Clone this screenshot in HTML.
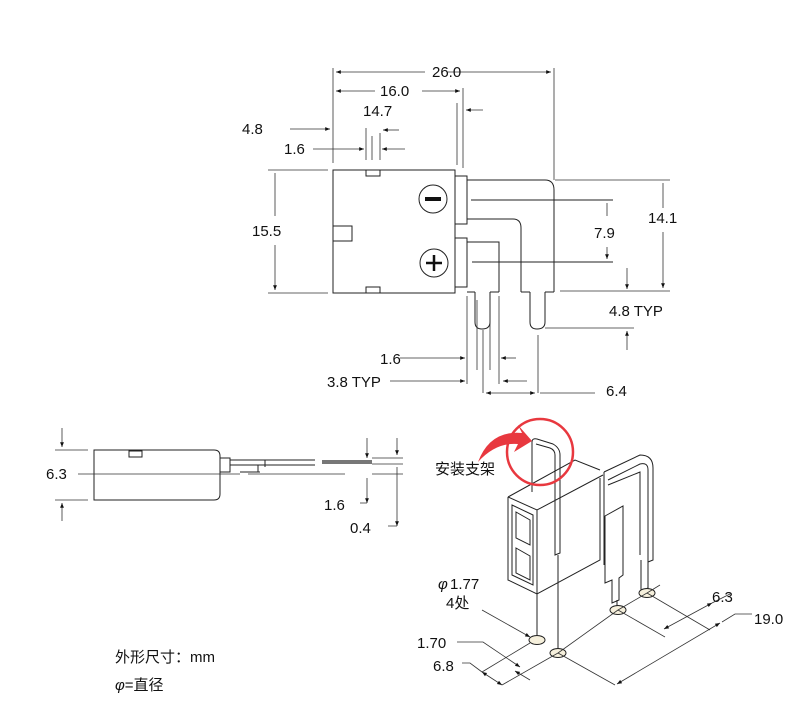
<!DOCTYPE html>
<html><head><meta charset="utf-8"><style>
body{margin:0;background:#fff}
svg{display:block}
text{font-family:"Liberation Sans","Noto Sans CJK SC",sans-serif;font-size:15px;fill:#111}
.l{stroke:#222;stroke-width:1;fill:none}
.t{stroke:#333;stroke-width:.8;fill:none}
</style></head><body>
<svg width="800" height="702" viewBox="0 0 800 702" xmlns="http://www.w3.org/2000/svg">
<defs>
<marker id="a" viewBox="0 0 10 10" refX="10" refY="5" markerWidth="8" markerHeight="6" orient="auto-start-reverse"><path d="M0,1 L10,5 L0,9z" fill="#111"/></marker>
</defs>
<!-- main body -->
<g class="l">
<rect x="333" y="170" width="122" height="123"/>
<rect x="366" y="170" width="14" height="6"/>
<rect x="366" y="287" width="14" height="6"/>
<rect x="333" y="226" width="19" height="15"/>
<rect x="455" y="176" width="12" height="48"/>
<rect x="455" y="238" width="12" height="49"/>
<path d="M455,224 V238"/>
<circle cx="433" cy="199" r="14"/>
<circle cx="434" cy="263" r="14"/>
<path d="M467,180 H545 Q554,180 554,190 V292"/>
<path d="M467,219 H513 Q521,219 521,228 V292"/>
<path d="M467,242 H499 V292"/>
<path d="M467,292 H475 M490,292 H499 M521,292 H530 M545,292 H554"/>
<path d="M475,292 V322 Q475,329 482,329 Q490,329 490,322 V292"/>
<path d="M530,292 V322 Q530,329 537,329 Q545,329 545,322 V292"/>
<path d="M471,200 H613 M472,262 H613"/>
</g>
<rect x="425" y="197" width="16" height="4" fill="#111"/>
<path d="M434,255 V271 M426,263 H442" stroke="#111" stroke-width="2.5"/>
<!-- top dims -->
<g class="t">
<path d="M333,68 V163 M554,68 V180 M463,88 V168 M457,103 V165"/>
<path d="M336,72 H425 M448,72 H551" marker-start="url(#a)" marker-end="url(#a)"/>
<path d="M336,91 H375 M422,91 H460" marker-start="url(#a)" marker-end="url(#a)"/>
<path d="M290,129 H330" marker-end="url(#a)"/>
<path d="M483,110 H466" marker-end="url(#a)"/>
<path d="M313,149 H364" marker-end="url(#a)"/>
<path d="M405,149 H382" marker-end="url(#a)"/>
<path d="M399,130 H383" marker-end="url(#a)"/>
<path d="M366,128 V160 M380,133 V160 M372,136 V160"/>
<path d="M268,170 H328 M268,293 H328"/>
<path d="M275,216 V173 M275,245 V290" marker-end="url(#a)"/>
<path d="M555,180 H670 M560,291 H670"/>
<path d="M663,208 V183 M663,232 V288" marker-end="url(#a)"/>
<path d="M607,216 V203 M607,247 V259" marker-end="url(#a)"/>
<path d="M627,268 V289" marker-end="url(#a)"/>
<path d="M627,350 V331" marker-end="url(#a)"/>
<path d="M545,328 H634"/>
<path d="M467,296 V384 M477,300 V370 M483,330 V393 M490,300 V370 M499,296 V384 M538,335 V393"/>
<path d="M400,358 H465" marker-end="url(#a)"/>
<path d="M516,358 H501" marker-end="url(#a)"/>
<path d="M390,381 H465" marker-end="url(#a)"/>
<path d="M527,381 H503" marker-end="url(#a)"/>
<path d="M486,393 H535" marker-start="url(#a)" marker-end="url(#a)"/>
<path d="M540,393 H595"/>
</g>
<text x="432" y="77">26.0</text>
<text x="380" y="96">16.0</text>
<text x="363" y="116">14.7</text>
<text x="242" y="134">4.8</text>
<text x="284" y="154">1.6</text>
<text x="252" y="236">15.5</text>
<text x="648" y="223">14.1</text>
<text x="594" y="238">7.9</text>
<text x="609" y="316">4.8 TYP</text>
<text x="380" y="364">1.6</text>
<text x="327" y="387">3.8 TYP</text>
<text x="606" y="396">6.4</text>
<!-- side view -->
<g class="l">
<path d="M94,450 H214 Q220,450 220,456 V494 Q220,500 214,500 H94 Z"/>
<rect x="129" y="451" width="13" height="6"/>
<rect x="220" y="458" width="10" height="14"/>
<path d="M230,460 H315 M230,465 H315 M258,465 V472 M265,460 V467 M240,472 H260"/>
</g>
<rect x="322" y="460" width="50" height="4" fill="#777"/>
<g class="t">
<path d="M55,450 H88 M55,500 H88 M78,474 H240 M248,474 H345 M372,464 H403 M372,474 H403 M372,458 H403"/>
<path d="M62,428 V447" marker-end="url(#a)"/>
<path d="M62,521 V503" marker-end="url(#a)"/>
<path d="M367,438 V458" marker-end="url(#a)"/>
<path d="M367,503 V478 M360,503 H367" marker-start="url(#a)"/>
<path d="M397,438 V455" marker-end="url(#a)"/>
<path d="M397,526 V467 M388,526 H397" marker-start="url(#a)"/>
</g>
<text x="46" y="479">6.3</text>
<text x="324" y="510">1.6</text>
<text x="350" y="533">0.4</text>
<!-- iso view -->
<g class="l" stroke-width=".9">
<path d="M508,497 L575,460 L600,470 M508,497 L537,510 L603,475 M508,497 V580 L537,594 L600,560 V478 M537,510 V594"/>
<path d="M512,505 L533,515 V585 L512,575 Z M516,512 L530,520 V545 L516,538 Z M516,548 L530,556 V580 L516,573 Z"/>
<path d="M532,492 V442 Q532,438 537,439 L553,444 Q560,448 560,455 V553 L555,555 V455 Q555,450 550,448 L536,444"/>
<path d="M604,472 V565 M604,472 L640,455 Q653,455 653,468 V560 L648,562 V470 Q648,462 640,464 L608,480 M608,485 L640,472 V555"/>
<path d="M605,516 L623,506 V575 L619,578 V600 L612,603 V580 L605,583 Z"/>
<path d="M648,562 V588 L641,591 V560"/>
<path d="M537,594 V640 M558,555 V653 M617,600 V610 M646,590 V593"/>
<ellipse cx="537" cy="640" rx="8" ry="4.5" fill="#f6f0dc"/>
<ellipse cx="558" cy="653" rx="8" ry="4.5" fill="#f6f0dc"/>
<ellipse cx="618" cy="610" rx="8" ry="4.5" fill="#f6f0dc"/>
<ellipse cx="647" cy="593" rx="8" ry="4.5" fill="#f6f0dc"/>
</g>
<g class="t">
<path d="M530,643 L482,672 M558,653 L502,685 M558,653 L618,610 L647,593 L660,585 M618,610 L665,637 M647,593 L710,630 M558,653 L615,685"/>
<path d="M617,684 L720,623" marker-start="url(#a)" marker-end="url(#a)"/>
<path d="M722,622 L735,614 H752"/>
<path d="M664,629 L712,603" marker-start="url(#a)" marker-end="url(#a)"/>
<path d="M712,603 L730,594"/>
<path d="M482,672 L502,685" marker-start="url(#a)" marker-end="url(#a)"/>
<path d="M530,680 L515,671" marker-end="url(#a)"/>
<path d="M457,642 H483 L520,667" marker-end="url(#a)"/>
<path d="M462,663 H470 L482,672"/>
<path d="M482,610 L530,637" marker-end="url(#a)"/>
</g>
<circle cx="540" cy="452" r="33" fill="none" stroke="#e8383f" stroke-width="2.5"/>
<path d="M478,462 Q490,430 522,433 L518,425 L532,441 L514,452 L518,444 Q496,442 478,462 Z" fill="#e8383f"/>
<text x="435" y="474">安装支架</text>
<text x="438" y="589" font-style="italic">φ</text><text x="450" y="589">1.77</text>
<text x="446" y="608">4处</text>
<text x="417" y="648">1.70</text>
<text x="433" y="671">6.8</text>
<text x="712" y="602">6.3</text>
<text x="754" y="624">19.0</text>
<text x="115" y="662">外形尺寸：mm</text>
<text x="115" y="690"><tspan font-style="italic">φ</tspan>=直径</text>
</svg>
</body></html>
